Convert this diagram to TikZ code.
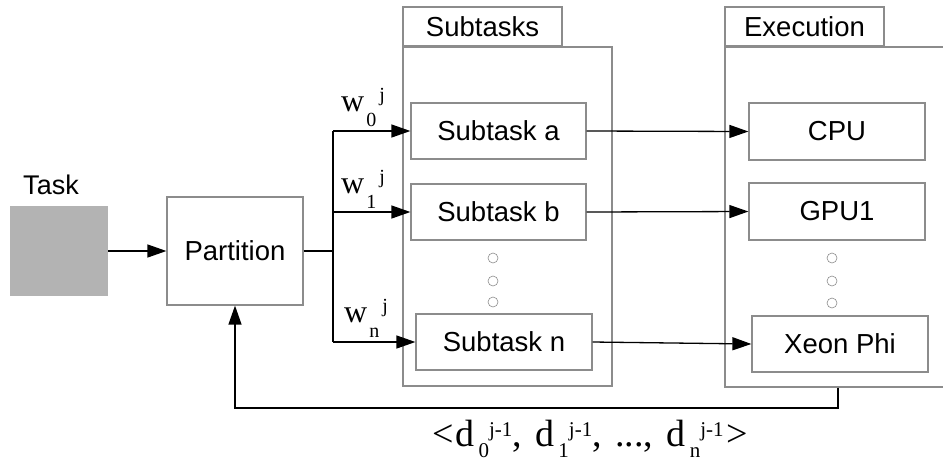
\documentclass[tikz,border=0pt]{standalone}
\usepackage{fontspec}
\setmainfont{Liberation Sans}
\newfontfamily\serifface{Liberation Serif}
\usetikzlibrary{arrows.meta}
\definecolor{boxgray}{HTML}{8C8C8C}
\definecolor{taskgray}{HTML}{B3B3B3}
\newcommand\wlab[1]{{\serifface\fontsize{32}{34}\selectfont w}\hspace{2pt}\raisebox{-15pt}{\serifface\fontsize{20}{20}\selectfont #1}\hspace{3pt}\raisebox{9.5pt}{\serifface\fontsize{20}{20}\selectfont j}}
\newcommand\dlab[1]{{\serifface\fontsize{38}{40}\selectfont d}\hspace{4pt}\raisebox{-11pt}{\serifface\fontsize{21}{21}\selectfont #1}\raisebox{10pt}{\serifface\fontsize{21}{21}\selectfont j-1}}
\tikzset{
  box/.style={draw=boxgray, line width=1.2pt, fill=white, inner sep=0pt,
    font=\fontsize{27.5}{30}\selectfont},
  frame/.style={draw=boxgray, line width=1.2pt, inner sep=0pt},
  conn/.style={line width=1.3pt, -{Triangle[length=19pt,width=13pt]}},
  line/.style={line width=1.3pt},
  dot/.style={circle, draw=boxgray, line width=0.6pt, minimum size=10pt, inner sep=0pt},
}
\begin{document}
\begin{tikzpicture}[x=1pt,y=-1pt]
\clip (0,0) rectangle (943,459);
\useasboundingbox (0,0) rectangle (943,459);
% task
\node[font=\fontsize{27}{29}\selectfont] (tasklbl) at (51,185) {Task};
\node[fill=taskgray, minimum width=98pt, minimum height=90pt, inner sep=0pt] (task) at (59,251) {};
\node[box, minimum width=136pt, minimum height=108pt] (part) at (235,251) {Partition};
% subtasks container
\node[frame, minimum width=209pt, minimum height=339pt] (subc) at (507.5,216.5) {};
\node[box, minimum width=159pt, minimum height=39pt] (subtab) at (482.5,26.5) {Subtasks};
\node[box, minimum width=175pt, minimum height=56pt] (sa) at (498.5,131) {Subtask a};
\node[box, minimum width=175pt, minimum height=56pt] (sb) at (498.5,212) {Subtask b};
\node[box, minimum width=176pt, minimum height=56pt] (sn) at (504,342) {Subtask n};
\node[dot] (sd1) at (493,258) {};
\node[dot] (sd2) at (493,281) {};
\node[dot] (sd3) at (493,302) {};
% execution container
\node[frame, minimum width=260pt, minimum height=340pt] (exc) at (855,217) {};
\node[box, minimum width=159pt, minimum height=39pt] (extab) at (804.5,26.5) {Execution};
\node[box, minimum width=176pt, minimum height=57pt] (cpu) at (837,131.5) {CPU};
\node[box, minimum width=176pt, minimum height=57pt] (gpu) at (837,211.5) {GPU1};
\node[box, minimum width=176pt, minimum height=56pt] (xeon) at (840,344) {Xeon Phi};
\node[dot] (ed1) at (832,258) {};
\node[dot] (ed2) at (832,281) {};
\node[dot] (ed3) at (832,303) {};
% connectors
\coordinate (br) at (333,251);
\draw[conn] (task) -- (part);
\draw[line] (part.east) -- (br);
\draw[line] (br |- sa.west) -- (br |- sn.west);
\draw[conn] (br |- sa.west) -- (sa.west);
\draw[conn] (br |- sb.west) -- (sb.west);
\draw[conn] (br |- sn.west) -- (sn.west);
\draw[conn] (sa.east) -- (cpu.west);
\draw[conn] (sb.east) -- (gpu.west);
\draw[conn] (sn.east) -- (xeon.west);
\coordinate (fb) at (838,408);
\draw[conn] (fb |- exc.south) -- (fb) -| (part.south);
% labels
\node[anchor=base west, inner sep=0pt] (w0) at (341,111) {\wlab{0}};
\node[anchor=base west, inner sep=0pt] (w1) at (341,193) {\wlab{1}};
\node[anchor=base west, inner sep=0pt] (wn) at (344,322) {\wlab{n}};
\node[anchor=base west, inner sep=0pt] (dl) at (432,446) {\serifface\fontsize{38}{40}\selectfont <\hspace{2pt}\dlab{0},\hspace{4pt} \dlab{1},\hspace{4pt} ...,\hspace{4pt} \dlab{n}\hspace{3pt}>};
\end{tikzpicture}
\end{document}
